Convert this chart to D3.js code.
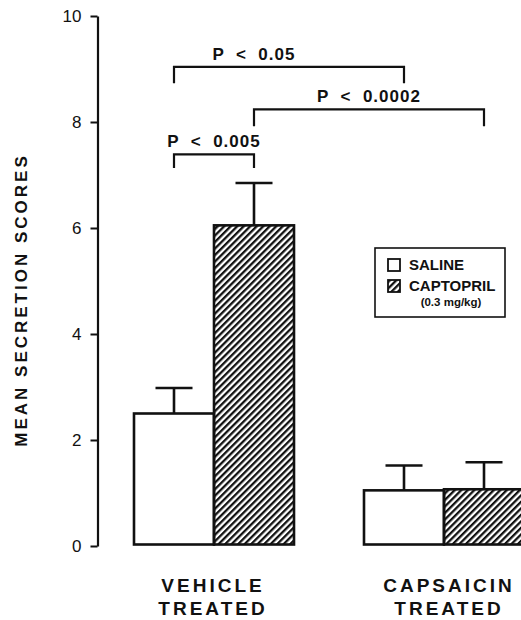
<!DOCTYPE html>
<html>
<head>
<meta charset="utf-8">
<script src="https://cdn.jsdelivr.net/npm/d3@7"></script>
<style>
  body { margin: 0; background: #fff; }
  text { font-family: "Liberation Sans", Arial, Helvetica, sans-serif; fill: #111; }
</style>
</head>
<body>
<div id="vis"></div>
<script>
// data
const groups = ["vehicle", "capsaicin"];
const groupLabels = [["VEHICLE", "TREATED"], ["CAPSAICIN", "TREATED"]];
const series = ["SALINE", "CAPTOPRIL"];
const salineMean = [2.5, 1.05];
const salineSem = [0.48, 0.47];
const captoprilMean = [6.05, 1.07];
const captoprilSem = [0.8, 0.51];
const yTicks = [0, 2, 4, 6, 8, 10];

// significance brackets: [group, series] to [group, series]
const sigLabels = ["P  <  0.05", "P  <  0.0002", "P  <  0.005"];
const sigFrom = [[0, 0], [0, 1], [0, 0]];
const sigTo = [[1, 0], [1, 1], [0, 1]];
const sigLevel = [9.04, 8.24, 7.39];
const sigLeg = [8.73, 7.92, 7.13];
const sigLabelShift = [-35, 0, 0];

const width = 521;
const height = 620;
const ink = "#111";

const svg = d3.select("#vis")
  .append("svg")
  .attr("width", width)
  .attr("height", height)
  .style("background", "white");

// hatch for captopril
const defs = svg.append("defs");
defs.append("pattern")
  .attr("id", "hatch")
  .attr("patternUnits", "userSpaceOnUse")
  .attr("width", 4.6)
  .attr("height", 4.6)
  .attr("patternTransform", "rotate(45)")
  .append("rect")
  .attr("x", 0)
  .attr("y", 0)
  .attr("width", 2.3)
  .attr("height", 4.6)
  .attr("fill", ink);

// scales
const yScale = d3.scaleLinear()
  .domain([0, 10])
  .range([546, 16]);

const xScale = d3.scaleBand()
  .domain(groups)
  .range([134, 524])
  .paddingInner(70 / 230)
  .paddingOuter(0);

const xSeries = d3.scaleBand()
  .domain(series)
  .range([0, xScale.bandwidth()])
  .padding(0);

// y axis
const yAxis = svg.append("g")
  .attr("transform", "translate(97.5, 0)")
  .call(d3.axisLeft(yScale).tickValues(yTicks).tickSize(7).tickSizeOuter(0).tickPadding(9));
yAxis.select(".domain").attr("stroke", ink).attr("stroke-width", 2.2);
yAxis.selectAll(".tick line").attr("stroke", ink).attr("stroke-width", 2);
yAxis.selectAll(".tick text")
  .style("font-size", "17px")
  .attr("fill", ink);

svg.append("text")
  .attr("transform", "translate(27, 300) rotate(-90)")
  .attr("text-anchor", "middle")
  .style("font-size", "17px")
  .style("font-weight", "bold")
  .style("letter-spacing", "3px")
  .text("MEAN SECRETION SCORES");

// bars
const rows = [];
groups.forEach((g, i) => {
  rows.push({ group: g, series: "SALINE", mean: salineMean[i], sem: salineSem[i] });
  rows.push({ group: g, series: "CAPTOPRIL", mean: captoprilMean[i], sem: captoprilSem[i] });
});
const barX = d => xScale(d.group) + xSeries(d.series);
const barMid = d => barX(d) + xSeries.bandwidth() / 2;

// error bars
const err = svg.append("g").attr("stroke", ink).attr("stroke-width", 2.6);
err.selectAll(".stem")
  .data(rows)
  .enter()
  .append("line")
  .attr("x1", barMid)
  .attr("x2", barMid)
  .attr("y1", d => yScale(d.mean))
  .attr("y2", d => yScale(d.mean + d.sem));
err.selectAll(".cap")
  .data(rows)
  .enter()
  .append("line")
  .attr("x1", d => barMid(d) - 18.5)
  .attr("x2", d => barMid(d) + 18.5)
  .attr("y1", d => yScale(d.mean + d.sem))
  .attr("y2", d => yScale(d.mean + d.sem));

svg.selectAll(".bar")
  .data(rows)
  .enter()
  .append("rect")
  .attr("x", barX)
  .attr("y", d => yScale(d.mean))
  .attr("width", xSeries.bandwidth())
  .attr("height", d => yScale(0) - 1.5 - yScale(d.mean))
  .attr("fill", d => d.series === "SALINE" ? "white" : "url(#hatch)")
  .attr("stroke", ink)
  .attr("stroke-width", 2.6);

// group labels
groupLabels.forEach((lines, i) => {
  const t = svg.append("text")
    .attr("x", xScale(groups[i]) + xScale.bandwidth() / 2 + (i === 1 ? 5 : -1))
    .attr("text-anchor", "middle")
    .style("font-size", "19px")
    .style("font-weight", "bold")
    .style("letter-spacing", "3px");
  lines.forEach((ln, j) => {
    t.append("tspan")
      .attr("x", t.attr("x"))
      .attr("y", 592 + j * 23)
      .text(ln);
  });
});

// significance brackets
const sig = svg.append("g");
sigLabels.forEach((lab, i) => {
  const a = { group: groups[sigFrom[i][0]], series: series[sigFrom[i][1]] };
  const b = { group: groups[sigTo[i][0]], series: series[sigTo[i][1]] };
  const x1 = barMid(a);
  const x2 = barMid(b);
  sig.append("path")
    .attr("d", `M${x1},${yScale(sigLeg[i])}V${yScale(sigLevel[i])}H${x2}V${yScale(sigLeg[i])}`)
    .attr("fill", "none")
    .attr("stroke", ink)
    .attr("stroke-width", 2.2);
  sig.append("text")
    .attr("x", (x1 + x2) / 2 + sigLabelShift[i])
    .attr("y", yScale(sigLevel[i]) - 7)
    .attr("text-anchor", "middle")
    .attr("xml:space", "preserve")
    .style("white-space", "pre")
    .style("font-size", "17px")
    .style("font-weight", "bold")
    .style("letter-spacing", "1px")
    .text(lab);
});

// legend
const legend = svg.append("g").attr("transform", "translate(375, 248)");
legend.append("rect")
  .attr("width", 130)
  .attr("height", 69)
  .attr("fill", "white")
  .attr("stroke", ink)
  .attr("stroke-width", 1.6);
series.forEach((s, i) => {
  legend.append("rect")
    .attr("x", 13)
    .attr("y", 11 + i * 21)
    .attr("width", 12)
    .attr("height", 12)
    .attr("fill", i === 0 ? "white" : "url(#hatch)")
    .attr("stroke", ink)
    .attr("stroke-width", 1.8);
  legend.append("text")
    .attr("x", 34)
    .attr("y", 22 + i * 21)
    .style("font-size", "15px")
    .style("font-weight", "bold")
    .text(s);
});
legend.append("text")
  .attr("x", 76)
  .attr("y", 58)
  .attr("text-anchor", "middle")
  .style("font-size", "11.5px")
  .style("font-weight", "bold")
  .text("(0.3 mg/kg)");
</script>
</body>
</html>
